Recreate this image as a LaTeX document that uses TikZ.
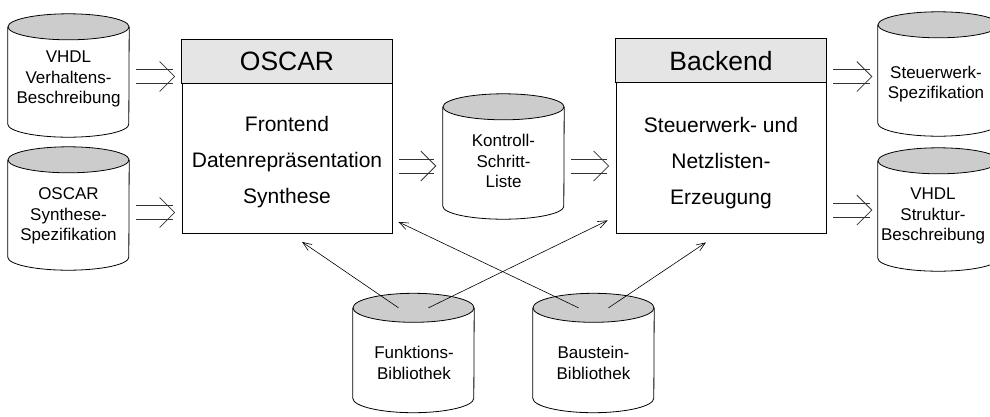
\documentclass[tikz,border=0pt]{standalone}
\usepackage{fontspec}
\setmainfont{Liberation Sans}
\usetikzlibrary{calc,arrows.meta}
\definecolor{headgray}{gray}{0.9}
\definecolor{topgray}{gray}{0.8}
\tikzset{
  outline/.style={draw=black, line width=0.8pt},
  box/.style={outline, fill=white, minimum width=210pt, minimum height=194pt, inner sep=0pt},
  cylbody/.style={minimum width=121pt, inner sep=0pt},
  titletext/.style={font=\fontsize{26.5}{30}\selectfont},
  boxtext/.style={align=center, font=\fontsize{21}{36}\selectfont},
  cyltext/.style={align=center, font=\fontsize{17}{20.5}\selectfont},
  dblline/.style={draw=black!80, line width=0.8pt},
  libarrow/.style={draw=black, line width=0.6pt, -{Straight Barb[length=9pt,width=7pt]}},
}
\newcommand\drawcyl[2]{%
  \draw[outline, fill=white] (#1.north west) -- (#1.south west)
     arc[start angle=180, end angle=360, x radius=60.5pt, y radius=#2] -- (#1.north east);
  \draw[outline, fill=topgray] (#1.north) ellipse [x radius=60.5pt, y radius=#2];
}
\newcommand\dblarr[2]{%
  \draw[dblline] ($(#1)+(0,7pt)$) -- ($(#2)+(-2pt,7pt)$);
  \draw[dblline] ($(#1)+(0,-7pt)$) -- ($(#2)+(-2pt,-7pt)$);
  \draw[dblline] ($(#2)+(-15pt,15pt)$) -- (#2) -- ($(#2)+(-15pt,-15pt)$);
}
\begin{document}
\begin{tikzpicture}
\useasboundingbox (0,0) rectangle (990pt,-416pt);
\clip (0,0) rectangle (990pt,-416pt);

% cylinder bodies (invisible reference nodes)
\node[cylbody, minimum height=97pt] (cA) at (68.5pt,-75.5pt) {};
\node[cylbody, minimum height=97pt] (cB) at (68.5pt,-208.5pt) {};
\node[cylbody, minimum height=99pt] (cK) at (503.5pt,-156.5pt) {};
\node[cylbody, minimum height=98pt] (cS) at (938.5pt,-74pt) {};
\node[cylbody, minimum height=97pt] (cV) at (938.5pt,-209.5pt) {};
\node[cylbody, minimum height=90pt] (cF) at (413.5pt,-353pt) {};
\node[cylbody, minimum height=90pt] (cBa) at (593.5pt,-353pt) {};

\drawcyl{cA}{13pt}
\drawcyl{cB}{13pt}
\drawcyl{cK}{13pt}
\drawcyl{cS}{13pt}
\drawcyl{cV}{13pt}
\drawcyl{cF}{14.5pt}
\drawcyl{cBa}{14.5pt}

\node[cyltext] (tA) at (68.5pt,-79pt) {VHDL\\Verhaltens-\\Beschreibung};
\node[cyltext] (tB) at (68.5pt,-216pt) {OSCAR\\Synthese-\\Spezifikation};
\node[cyltext] (tK) at (503.5pt,-161pt) {Kontroll-\\Schritt-\\Liste};
\node[cyltext] (tS) at (936pt,-84pt) {Steuerwerk-\\Spezifikation};
\node[cyltext] (tV) at (933pt,-216pt) {VHDL\\Struktur-\\Beschreibung};
\node[cyltext] (tF) at (414pt,-363pt) {Funktions-\\Bibliothek};
\node[cyltext] (tBa) at (593.5pt,-363pt) {Baustein-\\Bibliothek};

% main boxes
\node[box] (oscar) at (287pt,-136.5pt) {};
\draw[outline, fill=headgray] (oscar.north west) rectangle ($(oscar.north east)+(0,-44pt)$);
\node[titletext] (oscarT) at ($(oscar.north)+(0,-22pt)$) {OSCAR};
\node[boxtext] (oscarB) at (287pt,-162pt) {Frontend\\Datenrepräsentation\\Synthese};

\node[box] (backend) at (721pt,-136pt) {};
\draw[outline, fill=headgray] (backend.north west) rectangle ($(backend.north east)+(0,-44pt)$);
\node[titletext] (backendT) at ($(backend.north)+(0,-22pt)$) {Backend};
\node[boxtext] (backendB) at (721pt,-163pt) {Steuerwerk- und\\Netzlisten-\\Erzeugung};

% double arrows
\coordinate (y1) at (0,-76.5pt);
\coordinate (y2) at (0,-212.5pt);
\coordinate (y3) at (0,-166pt);
\coordinate (y4) at (0,-210pt);
\coordinate (a1s) at ($(cA.east |- y1)+(7pt,0)$);
\coordinate (a1e) at ($(oscar.west |- y1)+(-7pt,0)$);
\coordinate (a2s) at ($(cB.east |- y2)+(7pt,0)$);
\coordinate (a2e) at ($(oscar.west |- y2)+(-7pt,0)$);
\coordinate (a3s) at ($(oscar.east |- y3)+(7pt,0)$);
\coordinate (a3e) at ($(cK.west |- y3)+(-7pt,0)$);
\coordinate (a4s) at ($(cK.east |- y3)+(7pt,0)$);
\coordinate (a4e) at ($(backend.west |- y3)+(-7pt,0)$);
\coordinate (a5s) at ($(backend.east |- y1)+(7pt,0)$);
\coordinate (a5e) at ($(cS.west |- y1)+(-6pt,0)$);
\coordinate (a6s) at ($(backend.east |- y4)+(7pt,0)$);
\coordinate (a6e) at ($(cV.west |- y4)+(-6pt,0)$);
\dblarr{a1s}{a1e}
\dblarr{a2s}{a2e}
\dblarr{a3s}{a3e}
\dblarr{a4s}{a4e}
\dblarr{a5s}{a5e}
\dblarr{a6s}{a6e}

% library arrows
\draw[libarrow] ($(cF.north)+(-15pt,0)$) -- ($(oscar.south)+(15pt,-8pt)$);
\draw[libarrow] ($(cF.north)+(15pt,0)$) -- ($(backend.south west)+(-8pt,13pt)$);
\draw[libarrow] ($(cBa.north)+(-15pt,0)$) -- ($(oscar.south east)+(6pt,12pt)$);
\draw[libarrow] ($(cBa.north)+(15pt,0)$) -- ($(backend.south)+(-15pt,-9pt)$);
\end{tikzpicture}
\end{document}
